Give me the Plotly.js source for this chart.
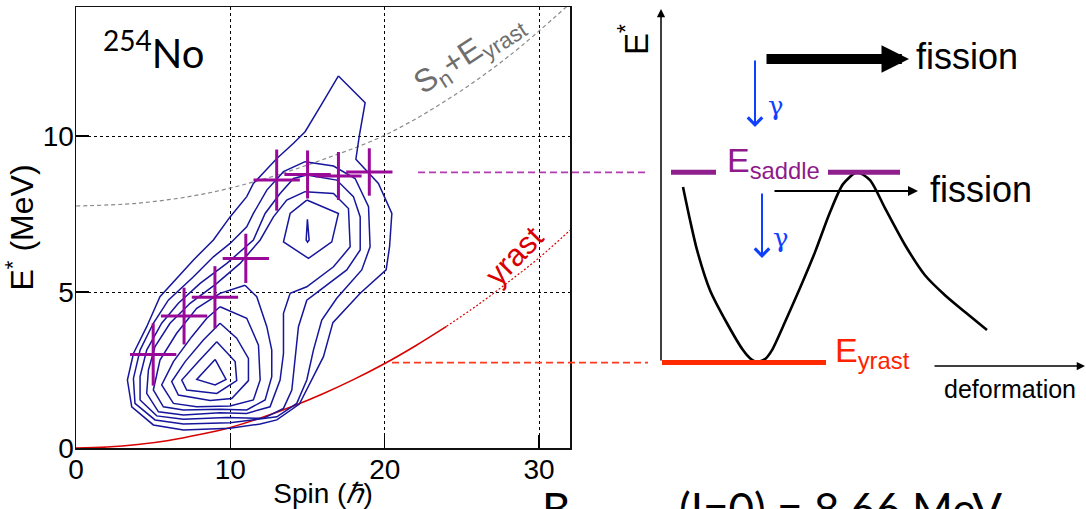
<!DOCTYPE html>
<html><head><meta charset="utf-8">
<script src="https://cdn.plot.ly/plotly-3.0.1.min.js"></script>
<style>html,body{margin:0;padding:0;background:#fff;} #chart{width:1086px;height:509px;}</style>
</head><body><div id="chart"></div>
<script>
// ---------- data ----------
// contour lines of the entry distribution (spin, E*)
const c1Spin = [17.00,18.73,18.36,18.13,19.59,20.46,20.31,20.09,18.41,16.64,16.03,15.17,14.47,13.01,11.93,9.98,6.96,5.01,3.61,3.33,3.72,4.58,5.44,7.61,8.90,9.98,11.06,11.49,13.01,14.09,14.84,15.81,17.00];
const c1E    = [11.93,11.07,10.03,9.26,8.48,7.52,6.45,5.71,4.96,4.02,2.93,2.07,1.41,0.90,0.77,0.63,0.58,0.74,1.32,2.18,3.03,3.89,4.85,6.03,6.67,7.41,8.06,8.48,9.28,9.77,10.14,10.94,11.93];
const c2Spin = [14.84,16.68,18.08,18.95,19.05,18.51,16.89,15.92,15.38,14.95,14.30,13.01,9.98,6.96,5.12,3.82,3.72,4.15,5.01,5.98,7.61,8.90,9.98,11.06,11.49,12.36,13.44,14.84];
const c2E    = [9.18,9.04,8.64,7.74,6.45,5.71,4.80,4.10,3.14,2.18,1.43,1.00,0.81,0.77,0.90,1.43,2.23,3.14,4.00,4.74,5.49,6.13,6.56,7.09,7.52,8.27,8.86,9.18];
const c3Spin = [14.95,16.89,17.97,18.41,18.41,17.54,15.81,14.95,14.41,14.19,13.98,13.44,12.14,9.77,6.96,5.23,4.15,4.15,4.58,5.55,6.63,8.04,9.77,11.49,12.25,13.22,14.09,14.95];
const c3E    = [8.75,8.59,8.06,7.41,6.35,5.71,5.06,4.74,3.89,2.82,1.86,1.27,0.95,0.98,0.92,1.03,1.54,2.29,3.14,4.00,4.64,5.28,5.92,6.67,7.52,8.16,8.64,8.75];
const c4Spin = [14.84,16.68,17.65,17.76,16.68,14.95,13.87,13.44,13.44,13.22,12.57,11.06,9.33,6.96,5.34,4.58,4.69,5.12,6.09,7.39,9.12,10.63,11.93,12.79,13.65,14.84];
const c4E    = [8.22,8.16,7.68,6.45,5.81,5.17,4.96,4.32,3.03,2.18,1.32,1.11,1.13,1.06,1.16,1.75,2.50,3.25,4.00,4.64,5.28,5.92,6.67,7.41,7.95,8.22];
const c5aSpin = [10.95,11.71,12.36,12.68,12.68,12.25,11.06,9.33,6.96,5.66,5.01,5.44,6.52,7.82,9.33,10.95];
const c5aE    = [5.22,4.85,3.89,3.14,2.29,1.54,1.22,1.24,1.22,1.32,1.86,2.82,3.68,4.48,4.96,5.22];
const c5bSpin = [14.95,17.00,16.57,15.06,13.44,13.87,14.95];
const c5bE    = [7.95,7.52,6.61,6.08,6.61,7.52,7.95];
const c6aSpin = [9.33,11.06,11.82,11.93,11.49,9.98,7.82,6.31,5.55,6.31,7.50,8.47,9.33];
const c6aE    = [4.53,4.16,3.30,2.18,1.54,1.35,1.32,1.43,2.02,2.77,3.57,4.16,4.53];
const c6bSpin = [14.99,15.10,15.00,14.91,14.99];
const c6bE    = [7.33,6.67,6.60,6.67,7.33];
const c7Spin = [9.33,10.41,11.17,11.17,10.09,8.69,6.63,6.20,7.07,8.25,9.33];
const c7E    = [4.00,3.52,2.87,2.16,1.59,1.52,1.70,2.13,2.77,3.46,4.00];
const c8Spin = [9.12,10.31,10.41,9.12,7.17,6.85,7.93,9.12];
const c8E    = [3.41,2.77,2.16,1.75,1.86,2.18,2.77,3.41];
const c9Spin = [9.01,9.72,9.01,7.82,9.01];
const c9E    = [2.84,2.20,2.02,2.20,2.84];

// measured entry points (crosses)
const ptSpin = [5,7,9,11,13,15,17,19];
const ptE    = [3.00,4.23,4.83,6.08,8.59,8.77,8.72,8.85];
const ptSpinErr = [1.5,1.5,1.5,1.5,1.5,1.5,1.5,1.5];
const ptEErr    = [1.00,0.91,1.00,0.79,0.98,0.77,0.77,0.76];

// yrast line (solid) and its extrapolation (dotted)
const yrastSpin = [0,2,4,6,8,10,12,14,16,18,20,22,24];
const yrastE    = [0,0.03,0.11,0.24,0.43,0.66,0.97,1.33,1.74,2.20,2.71,3.28,3.90];
const yrastExtSpin = [24,26,28,30,32];
const yrastExtE    = [3.90,4.58,5.32,6.10,6.98];

// Sn + E_yrast
const snSpin = [0,4,8,12,16,20,24,28,32];
const snE    = [7.76,7.85,8.12,8.60,9.25,10.03,11.15,12.55,14.25];

// schematic: potential energy vs deformation
const defo = [0.21,0.28,0.35,0.48,0.65,0.81,0.88,0.95,1.03,1.10,1.23,1.38,1.53,1.68,1.81,1.95,2.08,2.23,2.43,2.63,2.83,3.03,3.25];
const potE = [8.37,7.31,6.35,5.06,4.00,3.14,2.88,2.76,2.85,3.14,4.04,5.13,6.28,7.56,8.46,8.84,8.59,7.69,6.51,5.54,4.90,4.36,3.78];
const levelNames = ['saddle','yrast'];
const levelE = [8.84, 2.74];

// axis ticks
const xTicks = [0,10,20,30];
const yTicks = [0,5,10];

// ---------- layout helpers ----------
const W = 1086, H = 509;
const px = x => x / W;
const py = y => 1 - y / H;
const BLUE = '#16169c', MAG = '#990a99', RED = '#d80000';
const FONT = 'Liberation Sans, Arial, Helvetica, sans-serif';
const CAL = 'Lato, Open Sans, sans-serif';

const contours = [
  [c1Spin,c1E],[c2Spin,c2E],[c3Spin,c3E],[c4Spin,c4E],[c5aSpin,c5aE],[c5bSpin,c5bE],
  [c6aSpin,c6aE],[c6bSpin,c6bE],[c7Spin,c7E],[c8Spin,c8E],[c9Spin,c9E]
];
const traces = [];
traces.push({x: snSpin, y: snE, mode:'lines', line:{color:'#8a8a8a', width:1.2, dash:'4px,3px', shape:'spline'}, hoverinfo:'skip'});
traces.push({x: yrastSpin, y: yrastE, mode:'lines', line:{color:RED, width:1.6, shape:'spline'}, hoverinfo:'skip'});
traces.push({x: yrastExtSpin, y: yrastExtE, mode:'lines', line:{color:RED, width:1.2, dash:'2px,2px', shape:'spline'}, hoverinfo:'skip'});
contours.forEach(c => traces.push({x:c[0], y:c[1], mode:'lines', line:{color:BLUE, width:1.5}, hoverinfo:'skip'}));
traces.push({x: ptSpin, y: ptE, mode:'markers', marker:{size:2, color:MAG},
  error_x:{type:'data', array:ptSpinErr, color:MAG, thickness:3, width:0},
  error_y:{type:'data', array:ptEErr, color:MAG, thickness:3, width:0}, hoverinfo:'skip'});
traces.push({x: defo, y: potE, xaxis:'x2', yaxis:'y2', mode:'lines', line:{color:'#000', width:2.6, shape:'spline', smoothing:0.7}, hoverinfo:'skip'});

const yDom = [1 - 448/H, 1 - 7/H];
const ann = [];
function txt(text, x, y, o) { ann.push(Object.assign({text, x:px(x), y:py(y), xref:'paper', yref:'paper', xanchor:'center', yanchor:'middle', showarrow:false}, o)); }
function arrow(xh, yh, ax, ay, o) { ann.push(Object.assign({text:'', x:px(xh), y:py(yh), xref:'paper', yref:'paper', showarrow:true, ax, ay, arrowcolor:'#000', arrowwidth:1.5, arrowhead:2, arrowsize:1, standoff:0, startstandoff:0}, o)); }

txt('<sup>254</sup>No', 101, 50, {xanchor:'left', font:{family:CAL, size:40, color:'#000'}});
txt('S<sub>n</sub>+E<sub>yrast</sub>', 469, 54, {textangle:-33, font:{family:FONT, size:32, color:'#6e6e6e'}});
txt('yrast', 515, 256, {textangle:-46, font:{family:FONT, size:31, color:RED}});
txt('E<sup>*</sup>', 634, 40, {textangle:-90, font:{family:FONT, size:33, color:'#000'}});
txt('fission', 914, 57, {xanchor:'left', font:{family:FONT, size:36, color:'#000'}});
txt('fission', 928, 189, {xanchor:'left', font:{family:FONT, size:36, color:'#000'}});
txt('E<sub>' + levelNames[0] + '</sub>', 725, 162, {xanchor:'left', font:{family:FONT, size:34, color:'#8e1a8c'}});
txt('E<sub>' + levelNames[1] + '</sub>', 833, 352, {xanchor:'left', font:{family:FONT, size:34, color:'#ff2200'}});
txt('γ', 776, 106, {font:{family:'DejaVu Serif, Liberation Serif, serif', size:26, color:'#1040ff'}});
txt('γ', 781, 238, {font:{family:'DejaVu Serif, Liberation Serif, serif', size:26, color:'#1040ff'}});
txt('deformation', 1010, 389, {font:{family:FONT, size:25, color:'#000'}});
txt('B', 540, 480, {xanchor:'left', yanchor:'top', font:{family:CAL, size:44, color:'#000'}});
txt('(I=0) = 8.66 MeV', 677, 480, {xanchor:'left', yanchor:'top', font:{family:CAL, size:44, color:'#000'}});

arrow(661, 9, 0, 353, {arrowsize:1.1});
arrow(909, 59, -144, 0, {arrowwidth:10, arrowsize:0.55});
arrow(918, 191, -145, 0, {arrowwidth:2, arrowsize:1});
arrow(755, 127, 0, -68, {arrowcolor:'#1040ff', arrowwidth:2, arrowhead:4, arrowsize:1.4});
arrow(762, 258, 0, -66, {arrowcolor:'#1040ff', arrowwidth:2, arrowhead:4, arrowsize:1.4});
arrow(1085, 366, -152, 0, {arrowwidth:1.5, arrowsize:1.1});

const shapes = [
  {type:'line', xref:'paper', yref:'y', x0:px(418), x1:px(645), y0:levelE[0], y1:levelE[0], line:{color:'#b23cb2', width:1.8, dash:'7px,4px'}},
  {type:'line', xref:'paper', yref:'y', x0:px(392), x1:px(648), y0:levelE[1], y1:levelE[1], line:{color:'#ff3b1f', width:1.8, dash:'7px,4px'}},
  {type:'line', xref:'paper', yref:'y2', x0:px(671), x1:px(716), y0:levelE[0], y1:levelE[0], line:{color:'#8e1f8c', width:5}},
  {type:'line', xref:'paper', yref:'y2', x0:px(828), x1:px(900), y0:levelE[0], y1:levelE[0], line:{color:'#8e1f8c', width:5}},
  {type:'line', xref:'paper', yref:'y2', x0:px(662), x1:px(826), y0:levelE[1], y1:levelE[1], line:{color:'#ff2a00', width:5}}
];

const layout = {
  width: W, height: H, margin:{l:0, r:0, t:0, b:0}, showlegend:false,
  paper_bgcolor:'#fff', plot_bgcolor:'#fff',
  font:{family:FONT, color:'#000'},
  xaxis:{domain:[px(76), px(570)], range:[0,32], tickvals:xTicks, ticktext:xTicks.map(String), ticks:'inside', ticklen:13, tickwidth:1.3, tickcolor:'#000',
    showgrid:true, gridcolor:'#000', gridwidth:1, griddash:'dot', zeroline:false, showline:true, mirror:true, linecolor:'#111', linewidth:1.5,
    tickfont:{size:28, family:FONT}, ticklabelstandoff:-4, title:{text:'Spin (<i>ℏ</i>)', font:{size:28, family:FONT}, standoff:0}, anchor:'y', fixedrange:true, automargin:false},
  yaxis:{domain:yDom, range:[0,14.14], tickvals:yTicks, ticktext:yTicks.map(String), ticks:'inside', ticklen:13, tickwidth:1.3, tickcolor:'#000',
    showgrid:true, gridcolor:'#000', gridwidth:1, griddash:'dot', zeroline:false, showline:true, mirror:true, linecolor:'#111', linewidth:1.5,
    tickfont:{size:28, family:FONT}, ticklabelstandoff:-5, title:{text:'E<sup>*</sup> (MeV)', font:{size:32, family:FONT}, standoff:2}, anchor:'x', fixedrange:true, automargin:false},
  xaxis2:{domain:[px(600), 1], range:[-0.62, 4.24], visible:false, anchor:'y2', fixedrange:true},
  yaxis2:{domain:yDom, range:[0,14.14], visible:false, anchor:'x2', fixedrange:true},
  annotations: ann, shapes: shapes
};
Plotly.newPlot('chart', traces, layout, {staticPlot:true, displayModeBar:false});
</script></body></html>
